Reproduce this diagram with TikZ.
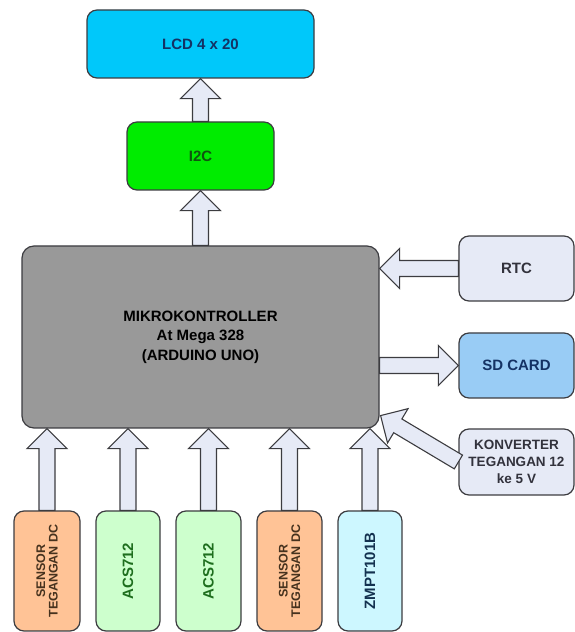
\documentclass[tikz,border=0pt]{standalone}
\usepackage{fontspec}
\setmainfont{Liberation Sans}
\usetikzlibrary{calc}
\definecolor{edge}{RGB}{60,60,64}
\definecolor{arrowfill}{RGB}{230,234,246}
\definecolor{lcdfill}{RGB}{0,200,250}
\definecolor{i2cfill}{RGB}{0,236,0}
\definecolor{mcufill}{RGB}{153,153,153}
\definecolor{lavfill}{RGB}{230,234,246}
\definecolor{sdfill}{RGB}{153,204,245}
\definecolor{sensfill}{RGB}{255,195,150}
\definecolor{acsfill}{RGB}{205,255,205}
\definecolor{zmptfill}{RGB}{205,247,255}
\definecolor{navytext}{RGB}{20,50,100}
\definecolor{greentext}{RGB}{15,85,15}
\definecolor{acstext}{RGB}{30,110,30}
\definecolor{senstext}{RGB}{70,50,30}
\definecolor{zmpttext}{RGB}{20,50,80}
\definecolor{graytext}{RGB}{50,50,60}
\tikzset{
  box/.style={draw=edge, line width=1.2pt, rounded corners=10pt, inner sep=0pt,
    font=\bfseries\fontsize{15}{19.5}\selectfont, align=center},
  vtext/.style={rotate=90, inner sep=0pt, align=center},
  flow/.style={draw=edge, line width=1.1pt, fill=arrowfill, line join=miter},
}
\newcommand\blockarrow[3]{%
  \coordinate (#3h) at ($(#2)!20pt!(#1)$);
  \draw[flow] ($(#1)!8pt!90:(#2)$) -- ($(#3h)!8pt!90:(#2)$) -- ($(#3h)!20pt!90:(#2)$)
    -- (#2) -- ($(#3h)!20pt!-90:(#2)$) -- ($(#3h)!8pt!-90:(#2)$) -- ($(#1)!8pt!-90:(#2)$) -- cycle;
}
\begin{document}
\begin{tikzpicture}[x=1pt,y=1pt]
\useasboundingbox (0,0) rectangle (575,632);
% main boxes
\node[box, fill=lcdfill, text=navytext, minimum width=227pt, minimum height=68pt] (lcd) at (200.5,588) {LCD 4 x 20};
\node[box, fill=i2cfill, text=greentext, minimum width=147pt, minimum height=68pt] (i2c) at (200.5,476) {I2C};
\node[box, fill=mcufill, text=black, rounded corners=12pt, minimum width=357pt, minimum height=182pt] (mcu) at (200.5,295) {MIKROKONTROLLER\\At Mega 328\\(ARDUINO UNO)};
\node[box, fill=lavfill, text=graytext, minimum width=115pt, minimum height=65pt] (rtc) at (516.5,363.5) {RTC};
\node[box, fill=sdfill, text=navytext, minimum width=115pt, minimum height=65pt] (sd) at (516.5,266.5) {SD CARD};
\node[box, fill=lavfill, text=graytext, minimum width=115pt, minimum height=66pt,
  font=\bfseries\fontsize{13.5}{17}\selectfont] (konv) at (516.5,170) {KONVERTER\\TEGANGAN 12\\ke 5 V};
% bottom boxes
\node[box, fill=sensfill, minimum width=66pt, minimum height=120pt] (b1) at (47,61) {};
\node[box, fill=acsfill, minimum width=64pt, minimum height=120pt] (b2) at (128,61) {};
\node[box, fill=acsfill, minimum width=65pt, minimum height=120pt] (b3) at (208.5,61) {};
\node[box, fill=sensfill, minimum width=65pt, minimum height=120pt] (b4) at (289.5,61) {};
\node[box, fill=zmptfill, minimum width=64pt, minimum height=120pt] (b5) at (370,61) {};
\node[vtext, text=senstext, font=\bfseries\fontsize{12.5}{12.5}\selectfont] (b1t) at (b1) {SENSOR\\TEGANGAN DC};
\node[vtext, text=acstext, font=\bfseries\fontsize{15}{18}\selectfont] (b2t) at (b2) {ACS712};
\node[vtext, text=acstext, font=\bfseries\fontsize{15}{18}\selectfont] (b3t) at (b3) {ACS712};
\node[vtext, text=senstext, font=\bfseries\fontsize{12.5}{12.5}\selectfont] (b4t) at (b4) {SENSOR\\TEGANGAN DC};
\node[vtext, text=zmpttext, font=\bfseries\fontsize{15}{18}\selectfont] (b5t) at (b5) {ZMPT101B};
% arrows
\blockarrow{i2c.north}{lcd.south}{a1}
\blockarrow{mcu.north}{i2c.south}{a2}
\coordinate (rtcend) at (rtc.west -| mcu.east);
\blockarrow{rtc.west}{rtcend}{a3}
\coordinate (sdstart) at (sd.west -| mcu.east);
\blockarrow{sdstart}{sd.west}{a4}
\foreach \b in {b1,b2,b3,b4,b5}{
  \coordinate (\b top) at (\b.north |- mcu.south);
  \blockarrow{\b.north}{\b top}{\b a}
}
\coordinate (ktip) at ($(mcu.south east)+(1,13)$);
\blockarrow{konv.west}{ktip}{a5}
\end{tikzpicture}
\end{document}
